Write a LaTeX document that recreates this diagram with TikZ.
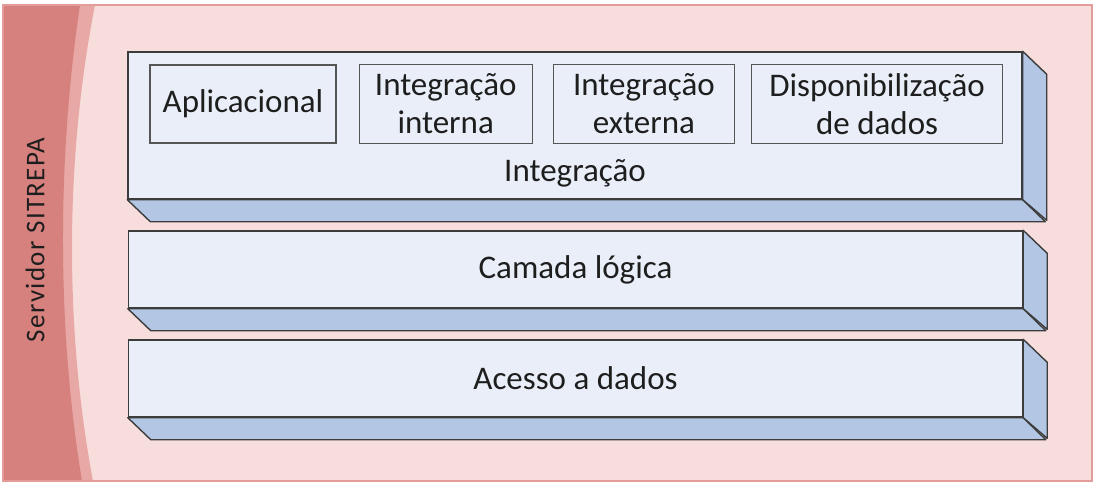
\documentclass[tikz,border=0pt]{standalone}
\usepackage{fontspec}
\setmainfont{Carlito}
\usetikzlibrary{positioning}
\definecolor{framefill}{HTML}{F7DEDC}
\definecolor{frameline}{HTML}{E39C9A}
\definecolor{banddark}{HTML}{D6817D}
\definecolor{bandlight}{HTML}{E8A9A6}
\definecolor{frontblue}{HTML}{E9EEF8}
\definecolor{sideblue}{HTML}{B3C6E3}
\definecolor{edgegrey}{HTML}{3C3C3C}
\definecolor{boxgrey}{HTML}{555555}
\definecolor{textgrey}{HTML}{1E1E1E}

\begin{document}
\begin{tikzpicture}[x=1pt, y=-1pt,
    font=\fontsize{33}{38}\selectfont, text=textgrey,
    layer/.style={draw=edgegrey, line width=1.4pt, fill=frontblue, minimum width=894pt, inner sep=0pt},
    part/.style={draw=boxgrey, line width=1.2pt, fill=frontblue, align=center, inner sep=0pt, minimum height=79pt},
    depth/.style={draw=edgegrey, line width=1.4pt, fill=sideblue, line join=round}]
    \useasboundingbox (0,0) rectangle (1099,490);
    \fill[framefill] (3,5) rectangle (1092,481);
    \fill[bandlight] (3,5) -- (95,5) .. controls (64.7,160) and (64.7,330) .. (93,481) -- (3,481) -- cycle;
    \fill[banddark] (3,5) -- (80,5) .. controls (57,160) and (57,330) .. (82,481) -- (3,481) -- cycle;
    \draw[frameline, line width=1.5pt] (3,5) rectangle (1092,481);
    \node[rotate=90, font=\fontsize{27}{32}\selectfont\addfontfeature{LetterSpace=5}] (servidor) at (35,240) {Servidor SITREPA};

    \node[layer, minimum height=147pt] (integracao) at (575,125.5) {};
    \draw[depth] (integracao.south west) -- ++(23,22) -- ++(895,0) -- (integracao.south east) -- cycle;
    \draw[depth] (integracao.north east) -- ++(24,23) -- ++(0,146) -- (integracao.south east) -- cycle;
    \node[above=9pt of integracao.south] (integracaolabel) {Integração};

    \node[part, minimum width=186pt, minimum height=78pt] (aplicacional) at (243,104) {Aplicacional};
    \node[part, minimum width=173pt, right=22pt of aplicacional] (interna) {Integração\\interna};
    \node[part, minimum width=181pt, right=20pt of interna] (externa) {Integração\\externa};
    \node[part, minimum width=251pt, right=16pt of externa] (disponibilizacao) {Disponibilização\\de dados};

    \node[layer, minimum height=77pt] (camada) at (575.5,269.5) {Camada lógica};
    \draw[depth] (camada.south west) -- ++(23,22) -- ++(895,0) -- (camada.south east) -- cycle;
    \draw[depth] (camada.north east) -- ++(24,23) -- ++(0,76) -- (camada.south east) -- cycle;

    \node[layer, minimum height=77pt] (acesso) at (575.5,378.5) {Acesso a dados};
    \draw[depth] (acesso.south west) -- ++(23,22) -- ++(895,0) -- (acesso.south east) -- cycle;
    \draw[depth] (acesso.north east) -- ++(24,23) -- ++(0,76) -- (acesso.south east) -- cycle;
\end{tikzpicture}
\end{document}
